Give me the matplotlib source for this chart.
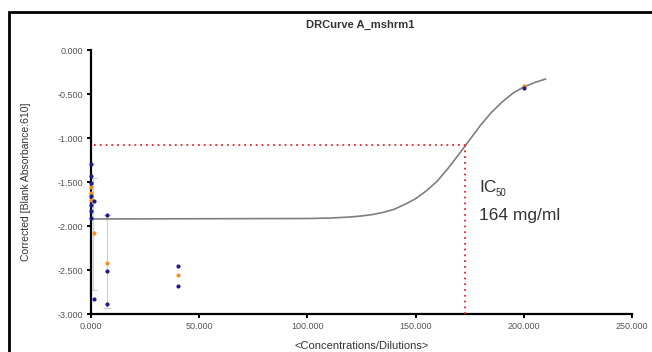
import numpy as np
import matplotlib
matplotlib.use("Agg")
import matplotlib.pyplot as plt
from matplotlib.patches import Rectangle

plt.rcParams["font.family"] = ["Liberation Sans", "DejaVu Sans"]

# measured wells (x = concentration, y = corrected absorbance)
blue_x = [0, 0, 0, 0, 0, 0, 0, 1.2, 1.2, 7.5, 7.5, 7.5, 40, 40, 200]
blue_y = [-1.30, -1.43, -1.51, -1.66, -1.76, -1.83, -1.91, -1.72, -2.83,
          -1.87, -2.51, -2.89, -2.46, -2.68, -0.435]
orange_x = [0, 0, 0, 1.2, 7.5, 40, 200]
orange_y = [-1.56, -1.62, -1.70, -2.08, -2.42, -2.56, -0.41]

# error bar ranges
err_x = [0.8, 7.5]
err_lo = [-2.73, -2.93]
err_hi = [-1.45, -1.87]

# fitted dose-response curve
curve_x = [0, 100, 110, 115, 120, 125, 130, 135, 140, 145, 150, 155, 160,
           165, 170, 175, 180, 185, 190, 195, 200, 205, 210]
curve_y = [-1.92, -1.915, -1.91, -1.904, -1.897, -1.886, -1.87, -1.845,
           -1.811, -1.755, -1.69, -1.60, -1.49, -1.345, -1.185, -1.02,
           -0.855, -0.71, -0.59, -0.49, -0.42, -0.37, -0.33]

ic50_x = 173
ic50_y = -1.08

fig = plt.figure(figsize=(6.52, 3.52), dpi=100)
ax = fig.add_axes([91/652, 38/352, 541/652, 264/352])

# outer frame (only top and left visible in the crop)
top = 1 - 12/352
fig.patches.append(Rectangle((9/652, -0.5), 1.2, top + 0.5,
                             transform=fig.transFigure, fill=False,
                             edgecolor="black", linewidth=2.0))

ax.plot(curve_x, curve_y, color="#7f7f7f", linewidth=1.2, zorder=2)

ctr = [(a + b) / 2 for a, b in zip(err_lo, err_hi)]
half = [(b - a) / 2 for a, b in zip(err_lo, err_hi)]
ax.errorbar(err_x, ctr, yerr=half, fmt="none", ecolor="#d0d0d0",
            elinewidth=0.8, capsize=3, capthick=0.8, zorder=1)

ax.plot([1.5, ic50_x], [ic50_y, ic50_y], color="#e8232a", linewidth=1.3,
        linestyle=(0, (1, 2.2)), zorder=3)
ax.plot([ic50_x, ic50_x], [-3.0, ic50_y], color="#e8232a", linewidth=1.3,
        linestyle=(0, (1, 2.2)), zorder=3)

ax.scatter(orange_x, orange_y, s=9, color="#f5901e", marker="o", zorder=4,
           linewidths=0, clip_on=False)
ax.scatter(blue_x, blue_y, s=9, color="#1c1c8c", marker="o", zorder=5,
           linewidths=0, clip_on=False)

# IC50 label: "IC" with a small lowered "50"
ic = ax.text(179.3, -1.614, "IC", fontsize=12.5, color="#333333",
             ha="left", va="baseline")
fig.canvas.draw()
bb = ic.get_window_extent().transformed(ax.transData.inverted())
ax.text(bb.x1 + 0.3, -1.66, "50", fontsize=7, color="#333333",
        ha="left", va="baseline")
ax.text(179.3, -1.93, "164 mg/ml", fontsize=12.5, color="#333333",
        ha="left", va="baseline")

ax.set_xlim(0, 250)
ax.set_ylim(-3.0, 0.0)
ax.set_xticks([0, 50, 100, 150, 200, 250])
ax.set_yticks([0, -0.5, -1.0, -1.5, -2.0, -2.5, -3.0])
ax.xaxis.set_major_formatter(matplotlib.ticker.FormatStrFormatter("%.3f"))
ax.yaxis.set_major_formatter(matplotlib.ticker.FormatStrFormatter("%.3f"))

for side in ["top", "right"]:
    ax.spines[side].set_visible(False)
for side in ["left", "bottom"]:
    ax.spines[side].set_linewidth(1.6)
ax.tick_params(axis="both", length=3, width=1.4, labelsize=6.5,
               labelcolor="#555555", pad=3)
ax.set_facecolor("none")

fig.text(360/652, 1 - 25/352, "DRCurve A_mshrm1", fontsize=8,
         fontweight="bold", color="#333333", ha="center", va="center")
ax.set_xlabel("<Concentrations/Dilutions>", fontsize=8, color="#333333",
              labelpad=7)
ax.set_ylabel("Corrected [Blank Absorbance:610]", fontsize=7.5,
              color="#333333", labelpad=19)

fig.savefig("out.png", dpi=100, facecolor="white")
